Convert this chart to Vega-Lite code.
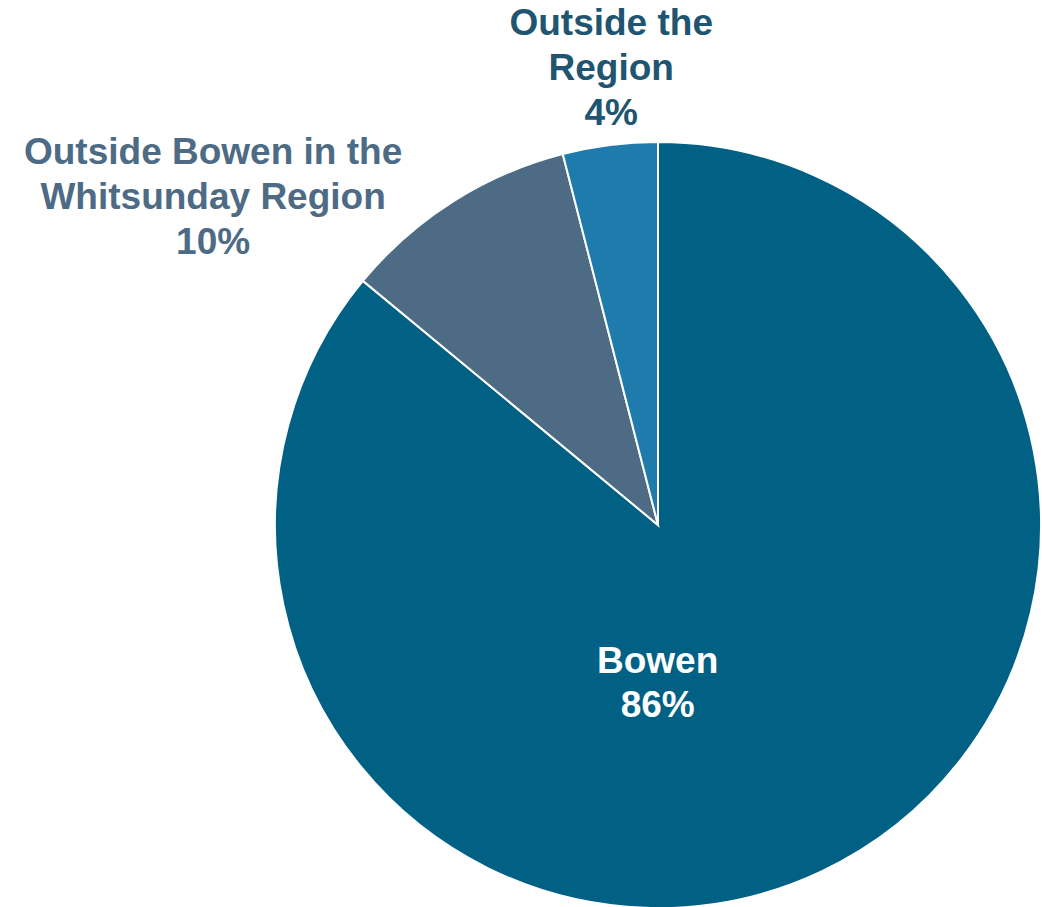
{
  "$schema": "https://vega.github.io/schema/vega-lite/v6.json",
  "width": 766,
  "height": 766,
  "autosize": "none",
  "padding": {"left": 275, "top": 142, "right": 1, "bottom": 0},
  "background": "white",
  "config": {"view": {"stroke": null}},
  "data": {"values": [
    {"category": "Bowen", "value": 86, "order": 1, "label": "Bowen\n86%"},
    {"category": "Outside Bowen in the Whitsunday Region", "value": 10, "order": 2, "label": "Outside Bowen in the\nWhitsunday Region\n10%"},
    {"category": "Outside the Region", "value": 4, "order": 3, "label": "Outside the\nRegion\n4%"}
  ]},
  "transform": [
    {"stack": "value", "groupby": [], "sort": [{"field": "order"}], "as": ["v0", "v1"]},
    {"calculate": "(datum.v0 + datum.v1) / 2", "as": "mid"}
  ],
  "layer": [
    {
      "mark": {"type": "arc", "stroke": "white", "strokeWidth": 2},
      "encoding": {
        "theta": {"field": "v0", "type": "quantitative", "scale": {"domain": [0, 100]}},
        "theta2": {"field": "v1"},
        "color": {"field": "category", "type": "nominal", "legend": null,
          "scale": {"domain": ["Bowen", "Outside Bowen in the Whitsunday Region", "Outside the Region"],
                    "range": ["#006185", "#4d6b85", "#1f7bab"]}}
      }
    },
    {
      "transform": [{"filter": "datum.order == 1"}],
      "mark": {"type": "text", "radius": 173, "dx": -74, "dy": -20, "font": "Liberation Sans", "fontWeight": "bold", "fontSize": 37, "lineHeight": 44, "lineBreak": "\n", "align": "center", "baseline": "middle", "color": "white"},
      "encoding": {"theta": {"field": "mid", "type": "quantitative", "scale": {"domain": [0, 100]}}, "text": {"field": "label"}}
    },
    {
      "transform": [{"filter": "datum.order == 2"}],
      "mark": {"type": "text", "radius": 388, "dx": -237, "dy": -44, "font": "Liberation Sans", "fontWeight": "bold", "fontSize": 37, "lineHeight": 45, "lineBreak": "\n", "align": "center", "baseline": "middle", "color": "#4d6b85"},
      "encoding": {"theta": {"field": "mid", "type": "quantitative", "scale": {"domain": [0, 100]}}, "text": {"field": "label"}}
    },
    {
      "transform": [{"filter": "datum.order == 3"}],
      "mark": {"type": "text", "radius": 461, "dx": 11, "dy": -44, "font": "Liberation Sans", "fontWeight": "bold", "fontSize": 37, "lineHeight": 45, "lineBreak": "\n", "align": "center", "baseline": "middle", "color": "#1f5570"},
      "encoding": {"theta": {"field": "mid", "type": "quantitative", "scale": {"domain": [0, 100]}}, "text": {"field": "label"}}
    }
  ]
}
